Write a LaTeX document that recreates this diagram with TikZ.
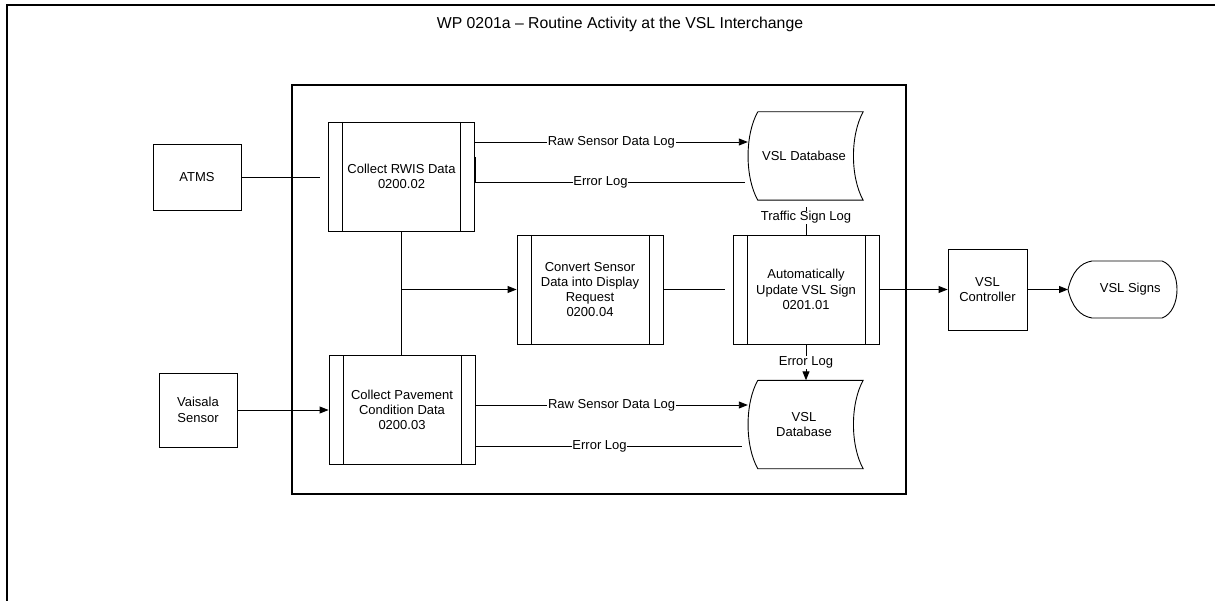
\documentclass[tikz,border=0pt]{standalone}
\usepackage{fontspec}
\setmainfont{Liberation Sans}
\usetikzlibrary{arrows.meta,calc}
\begin{document}
\begin{tikzpicture}[x=1pt,y=-1pt,
  every node/.style={font=\fontsize{13}{15.3}\selectfont, align=center, inner sep=0pt},
  proc/.style={draw, line width=0.9pt, minimum width=146pt, minimum height=109pt,
    path picture={
      \draw[line width=0.9pt] ([xshift=14pt]path picture bounding box.north west) -- ([xshift=14pt]path picture bounding box.south west);
      \draw[line width=0.9pt] ([xshift=-14pt]path picture bounding box.north east) -- ([xshift=-14pt]path picture bounding box.south east);}},
  ext/.style={draw, line width=0.9pt},
  store/.style={minimum width=118pt, minimum height=88pt},
  flow/.style={line width=0.9pt},
  arr/.style={flow, -{Triangle[length=9pt,width=7pt]}},
  lbl/.style={fill=white, inner sep=0.6pt},
]
\useasboundingbox (0,0) rectangle (1215,601);
\clip (0,0) rectangle (1215,601);

% page frame and title
\draw[line width=2.3pt] (7,5) rectangle (1240,640);
\node[font=\fontsize{15.8}{19}\selectfont] (title) at (620,24) {WP 0201a -- Routine Activity at the VSL Interchange};

% work package boundary
\draw[line width=1.7pt] (292,85) rectangle (906,494);

% external entities
\node[ext, minimum width=88pt, minimum height=66pt] (atms) at (197,177) {ATMS};
\node[ext, minimum width=78pt, minimum height=74pt] (vais) at (198,410) {Vaisala\\Sensor};
\node[ext, minimum width=79pt, minimum height=81pt] (ctrl) at (987.5,289.5) {VSL\\Controller};

% processes
\node[proc] (rwis) at (401.5,176.5) {Collect RWIS Data\\0200.02};
\node[proc] (pav)  at (402,410) {Collect Pavement\\Condition Data\\0200.03};
\node[proc] (conv) at (590,289.5) {Convert Sensor\\Data into Display\\Request\\0200.04};
\node[proc] (auto) at (806,289.5) {Automatically\\Update VSL Sign\\0201.01};

% data stores
\node[store] (db1) at (804,156) {VSL Database};
\node[store] (db2) at (804,424.5) {VSL\\Database};
\foreach \d in {db1,db2}{
  \draw[line width=0.9pt]
    ($(\d.north west)+(13,0)$) -- (\d.north east)
    .. controls +(-13,23) and +(-13,-23) .. (\d.south east)
    -- ($(\d.south west)+(13,0)$)
    .. controls +(-13,-23) and +(-13,23) .. ($(\d.north west)+(13,0)$);
}

% display
\node[minimum width=109pt, minimum height=57pt, anchor=west,
      label={[xshift=7.5pt]center:VSL Signs}] (signs) at (1068,289.5) {};
\draw[line width=0.9pt]
  (signs.west) .. controls +(4,-17.5) and +(-12,2) .. ($(signs.west)+(24,-28.5)$)
  -- ($(signs.west)+(94,-28.5)$)
  .. controls +(20,7) and +(20,-7) .. ($(signs.west)+(94,28.5)$)
  -- ($(signs.west)+(24,28.5)$)
  .. controls +(-12,-2) and +(4,17.5) .. (signs.west);

% flows
\draw[flow] (atms.east) -- ($(atms.east)+(79,0)$) coordinate (atmsend);
\draw[arr] (vais.east) -- (pav.west);

\draw[arr] ($(rwis.east)+(0,-34.5)$) -- node[lbl,pos=0.5]{Raw Sensor Data Log} ($(db1.west)+(3,-14)$);
\draw[flow] ($(rwis.east)+(0,-19.5)$) -- ($(rwis.east)+(0,5.5)$) -- node[lbl,pos=0.465]{Error Log} ($(db1.west)+(0,26)$);

\draw[arr] ($(pav.east)+(0,-5)$) -- node[lbl,pos=0.5]{Raw Sensor Data Log} ($(db2.west)+(3,-19.5)$);
\draw[flow] ($(pav.east)+(0,9)$) -- ($(pav.east)+(0,36)$) -- node[lbl,pos=0.466]{Error Log} ($(db2.west)+(-3,21.5)$);

\draw[flow] (rwis.south) -- (rwis.south |- pav.north);
\draw[arr] (rwis.south |- conv.west) -- (conv.west);
\draw[flow] (conv.east) -- ($(conv.east)+(62,0)$) coordinate (convend);

\draw[flow] (auto.north) -- ($(auto.north)+(0,-28)$) coordinate (tsl);
\node[lbl] (tsllbl) at ($(auto.north)+(0,-17)$) {Traffic Sign Log};
\draw[arr] (auto.south) -- node[lbl,pos=0.5]{Error Log} (auto.south |- db2.north);

\draw[arr] (auto.east) -- (ctrl.west);
\draw[arr] (ctrl.east) -- (signs.west);
\end{tikzpicture}
\end{document}
